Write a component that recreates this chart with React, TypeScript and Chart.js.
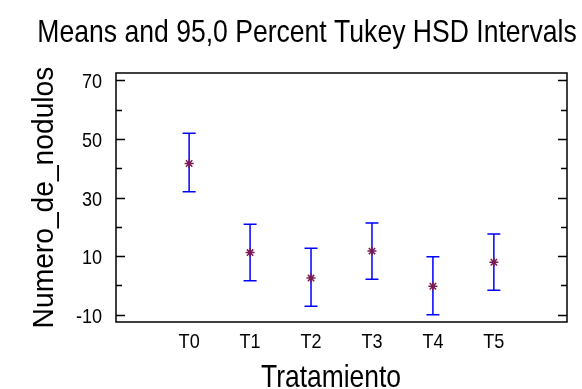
import React, { useEffect, useRef } from "react";
import { Chart, registerables } from "chart.js";

Chart.register(...registerables);

const categories = ["T0", "T1", "T2", "T3", "T4", "T5"];
const means = [41.6, 11.2, 2.5, 11.7, -0.3, 7.9];
const lowerLimits = [32.0, 1.6, -7.1, 2.1, -10.0, -1.7];
const upperLimits = [51.9, 20.9, 12.7, 21.3, 9.8, 17.5];
const yMajorTicks = [-10, 10, 30, 50, 70];
const yMinorStep = 5;

const titleText = "Means and 95,0 Percent Tukey HSD Intervals";
const xTitleText = "Tratamiento";
const yTitleText = "Numero_de_nodulos";

const FONT = '"Liberation Sans", Arial, sans-serif';

function drawText(
  ctx: CanvasRenderingContext2D,
  text: string,
  x: number,
  y: number,
  size: number,
  align: CanvasTextAlign,
  baseline: CanvasTextBaseline,
  sx: number,
  rot = 0
) {
  ctx.save();
  ctx.translate(x, y);
  if (rot) ctx.rotate(rot);
  ctx.scale(sx, 1);
  ctx.font = `${size}px ${FONT}`;
  ctx.fillStyle = "#000";
  ctx.textAlign = align;
  ctx.textBaseline = baseline;
  ctx.fillText(text, 0, 0);
  ctx.restore();
}

const framePlugin = {
  id: "frame",
  beforeDatasetsDraw(chart: any) {
    const ctx: CanvasRenderingContext2D = chart.ctx;
    const x = chart.scales.x;
    const y = chart.scales.y;
    ctx.save();
    ctx.strokeStyle = "#0000ff";
    ctx.lineWidth = 1.5;
    for (let i = 0; i < means.length; i++) {
      const px = x.getPixelForValue(i);
      const yl = y.getPixelForValue(lowerLimits[i]);
      const yu = y.getPixelForValue(upperLimits[i]);
      ctx.beginPath();
      ctx.moveTo(px, yl);
      ctx.lineTo(px, yu);
      ctx.moveTo(px - 6.5, yl);
      ctx.lineTo(px + 6.5, yl);
      ctx.moveTo(px - 6.5, yu);
      ctx.lineTo(px + 6.5, yu);
      ctx.stroke();
    }
    ctx.restore();
  },
  afterDraw(chart: any) {
    const ctx: CanvasRenderingContext2D = chart.ctx;
    const a = chart.chartArea;
    const x = chart.scales.x;
    const y = chart.scales.y;
    ctx.save();
    ctx.strokeStyle = "#000";
    ctx.lineWidth = 1.5;
    ctx.strokeRect(a.left, a.top, a.right - a.left, a.bottom - a.top);
    ctx.beginPath();
    for (const t of y.ticks) {
      const py = Math.round(y.getPixelForValue(t.value)) + 0.5;
      const major = yMajorTicks.includes(t.value);
      const len = major ? 9 : 6;
      ctx.moveTo(a.left, py);
      ctx.lineTo(a.left + len, py);
      ctx.moveTo(a.right, py);
      ctx.lineTo(a.right - len, py);
    }
    ctx.stroke();
    ctx.restore();

    for (const v of yMajorTicks) {
      const py = y.getPixelForValue(v);
      drawText(ctx, String(v), 102, py + 8, 21, "right", "alphabetic", 0.86);
    }
    categories.forEach((c, i) => {
      const px = x.getPixelForValue(i);
      drawText(ctx, c, px, 348, 21, "center", "alphabetic", 0.86);
    });
    drawText(ctx, titleText, 307, 42, 32, "center", "alphabetic", 0.83);
    drawText(ctx, xTitleText, 331, 387, 32, "center", "alphabetic", 0.826);
    drawText(
      ctx,
      yTitleText,
      53,
      (a.top + a.bottom) / 2,
      30,
      "center",
      "alphabetic",
      0.94,
      -Math.PI / 2
    );
  },
};

export default function App() {
  const ref = useRef<HTMLCanvasElement>(null);
  useEffect(() => {
    if (!ref.current) return;
    const chart = new Chart(ref.current, {
      type: "scatter",
      data: {
        datasets: [
          {
            data: means.map((m, i) => ({ x: i, y: m })),
            pointStyle: "star",
            radius: 4.5,
            borderColor: "#7a1a55",
            backgroundColor: "#7a1a55",
            borderWidth: 1.5,
          },
        ],
      },
      options: {
        animation: false,
        responsive: false,
        devicePixelRatio: 1,
        layout: { padding: { left: 116, top: 73, right: 15, bottom: 67 } },
        plugins: {
          legend: { display: false },
          title: { display: false },
          tooltip: { enabled: false },
        },
        scales: {
          x: { type: "linear", display: false, min: -1.2, max: 6.2 },
          y: {
            type: "linear",
            display: false,
            min: -12.5,
            max: 72.5,
            afterBuildTicks: (scale: any) => {
              const ticks = [];
              for (let v = yMajorTicks[0]; v <= yMajorTicks[yMajorTicks.length - 1]; v += yMinorStep) {
                ticks.push({ value: v });
              }
              scale.ticks = ticks;
            },
          },
        },
      },
      plugins: [framePlugin],
    });
    return () => chart.destroy();
  }, []);
  return (
    <div style={{ position: "fixed", left: 0, top: 0, width: 582, height: 389, background: "#fff" }}>
      <canvas ref={ref} width={582} height={389} />
    </div>
  );
}
